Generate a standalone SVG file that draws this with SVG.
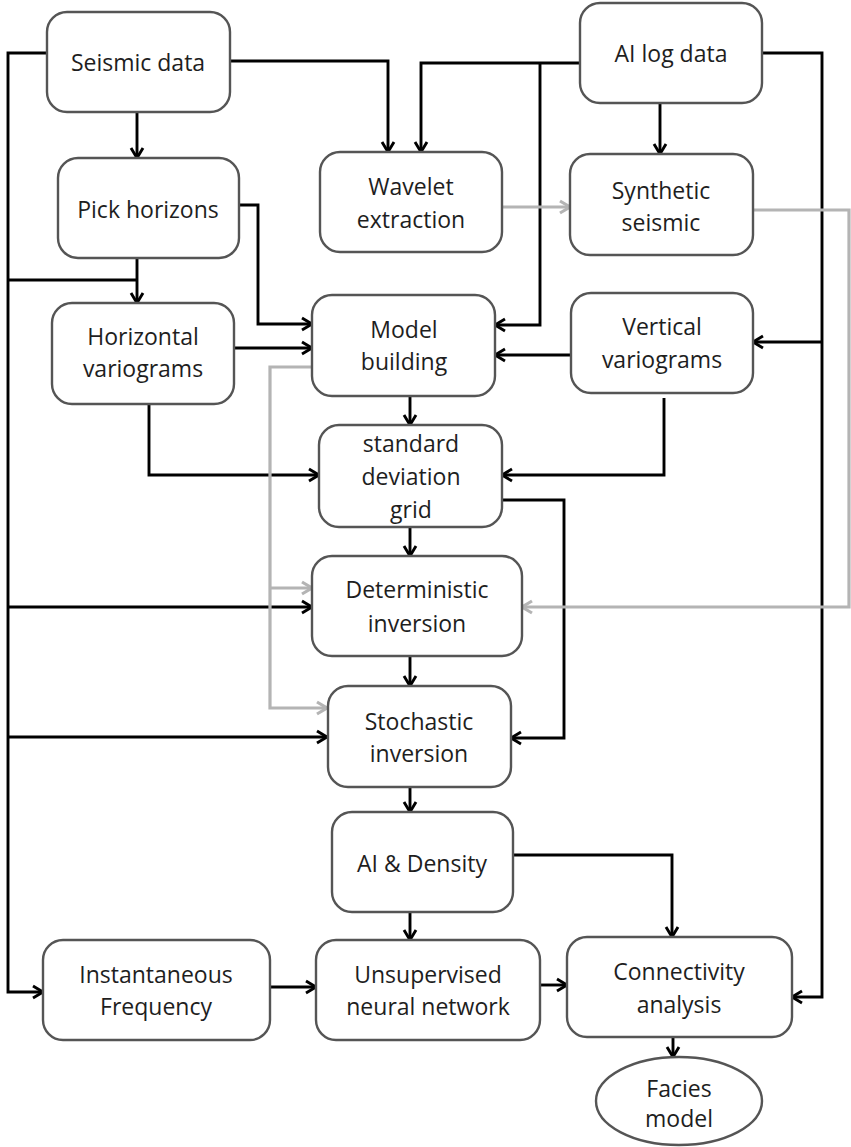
<svg xmlns="http://www.w3.org/2000/svg" width="851" height="1147" viewBox="0 0 851 1147">
<style>
.box{fill:#fff;stroke:#555;stroke-width:2.4}
.t{font-family:"Open Sans","Liberation Sans",sans-serif;font-size:23px;fill:#1e1e1e;text-anchor:middle}
.c{fill:none;stroke:#000;stroke-width:2.9;marker-end:url(#ab)}
.n{fill:none;stroke:#000;stroke-width:2.9}
.g{fill:none;stroke:#b4b4b4;stroke-width:3.2;marker-end:url(#ag)}
</style>
<defs>
<marker id="ab" markerUnits="userSpaceOnUse" viewBox="0 0 12 14" refX="11" refY="7" markerWidth="12" markerHeight="14" orient="auto" overflow="visible">
<path d="M1,1 L11,7 L1,13" fill="none" stroke="#000" stroke-width="2.9"/>
</marker>
<marker id="ag" markerUnits="userSpaceOnUse" viewBox="0 0 12 14" refX="11" refY="7" markerWidth="12" markerHeight="14" orient="auto" overflow="visible">
<path d="M1,1 L11,7 L1,13" fill="none" stroke="#b4b4b4" stroke-width="3.2"/>
</marker>
</defs>
<rect width="851" height="1147" fill="#fff"/>
<g id="connectors">
<path class="c" d="M47,53 H8 V992 H43"/>
<path class="n" d="M8,280 H137"/>
<path class="c" d="M8,607 H312"/>
<path class="c" d="M8,737 H327"/>
<path class="c" d="M137,112 V158"/>
<path class="c" d="M137,258 V303"/>
<path class="c" d="M230,61 H388 V152"/>
<path class="c" d="M580,63 H421 V152"/>
<path class="c" d="M540,63 V325 H495"/>
<path class="c" d="M660,103 V154"/>
<path class="c" d="M762,53 H822 V997 H792"/>
<path class="c" d="M822,342 H753"/>
<path class="c" d="M239,205 H258 V324 H312"/>
<path class="c" d="M234,348 H312"/>
<path class="c" d="M571,355 H495"/>
<path class="c" d="M149,398 V475 H319"/>
<path class="c" d="M664,398 V475 H502"/>
<path class="c" d="M410,396 V425"/>
<path class="c" d="M410,527 V556"/>
<path class="c" d="M502,500 H564 V738 H511"/>
<path class="c" d="M410,656 V686"/>
<path class="c" d="M410,787 V812"/>
<path class="c" d="M410,912 V940"/>
<path class="c" d="M513,855 H672 V937"/>
<path class="c" d="M270,987 H316"/>
<path class="c" d="M540,985 H567"/>
<path class="c" d="M673,1037 V1057"/>
<path class="g" d="M502,207 H570"/>
<path class="g" d="M753,210 H849 V607 H522"/>
<path class="g" d="M312,367 H270 V708 H327"/>
<path class="g" d="M270,588 H312"/>
</g>
<g id="seismic"><rect class="box" x="47" y="12" width="183" height="100" rx="20"/><text class="t" x="138" y="71">Seismic data</text></g>
<g id="ailog"><rect class="box" x="580" y="3" width="182" height="100" rx="20"/><text class="t" x="671" y="62">AI log data</text></g>
<g id="pick"><rect class="box" x="58" y="158" width="181" height="100" rx="20"/><text class="t" x="148" y="218">Pick horizons</text></g>
<g id="wavelet"><rect class="box" x="320" y="152" width="182" height="100" rx="20"/><text class="t" x="411" y="195">Wavelet</text><text class="t" x="411" y="228">extraction</text></g>
<g id="synthetic"><rect class="box" x="570" y="154" width="183" height="101" rx="20"/><text class="t" x="661" y="199">Synthetic</text><text class="t" x="661" y="231">seismic</text></g>
<g id="horizontal"><rect class="box" x="52" y="303" width="182" height="101" rx="20"/><text class="t" x="143" y="345">Horizontal</text><text class="t" x="143" y="377">variograms</text></g>
<g id="model"><rect class="box" x="312" y="295" width="183" height="101" rx="20"/><text class="t" x="404" y="338">Model</text><text class="t" x="404" y="370">building</text></g>
<g id="vertical"><rect class="box" x="571" y="293" width="182" height="100" rx="20"/><text class="t" x="662" y="335">Vertical</text><text class="t" x="662" y="368">variograms</text></g>
<g id="stddev"><rect class="box" x="319" y="425" width="183" height="102" rx="20"/><text class="t" x="411" y="452">standard</text><text class="t" x="411" y="485">deviation</text><text class="t" x="411" y="518">grid</text></g>
<g id="deterministic"><rect class="box" x="312" y="556" width="210" height="100" rx="20"/><text class="t" x="417" y="598">Deterministic</text><text class="t" x="417" y="632">inversion</text></g>
<g id="stochastic"><rect class="box" x="328" y="686" width="183" height="101" rx="20"/><text class="t" x="419" y="730">Stochastic</text><text class="t" x="419" y="762">inversion</text></g>
<g id="aidensity"><rect class="box" x="332" y="812" width="181" height="100" rx="20"/><text class="t" x="422" y="872">AI &amp; Density</text></g>
<g id="instfreq"><rect class="box" x="43" y="940" width="227" height="100" rx="20"/><text class="t" x="156" y="983">Instantaneous</text><text class="t" x="156" y="1015">Frequency</text></g>
<g id="unsupervised"><rect class="box" x="316" y="940" width="224" height="100" rx="20"/><text class="t" x="428" y="983">Unsupervised</text><text class="t" x="428" y="1015">neural network</text></g>
<g id="connectivity"><rect class="box" x="567" y="937" width="225" height="100" rx="20"/><text class="t" x="679" y="980">Connectivity</text><text class="t" x="679" y="1013">analysis</text></g>
<g id="facies"><ellipse class="box" cx="679" cy="1101" rx="83" ry="44"/><text class="t" x="679" y="1097">Facies</text><text class="t" x="679" y="1127">model</text></g>
</svg>
